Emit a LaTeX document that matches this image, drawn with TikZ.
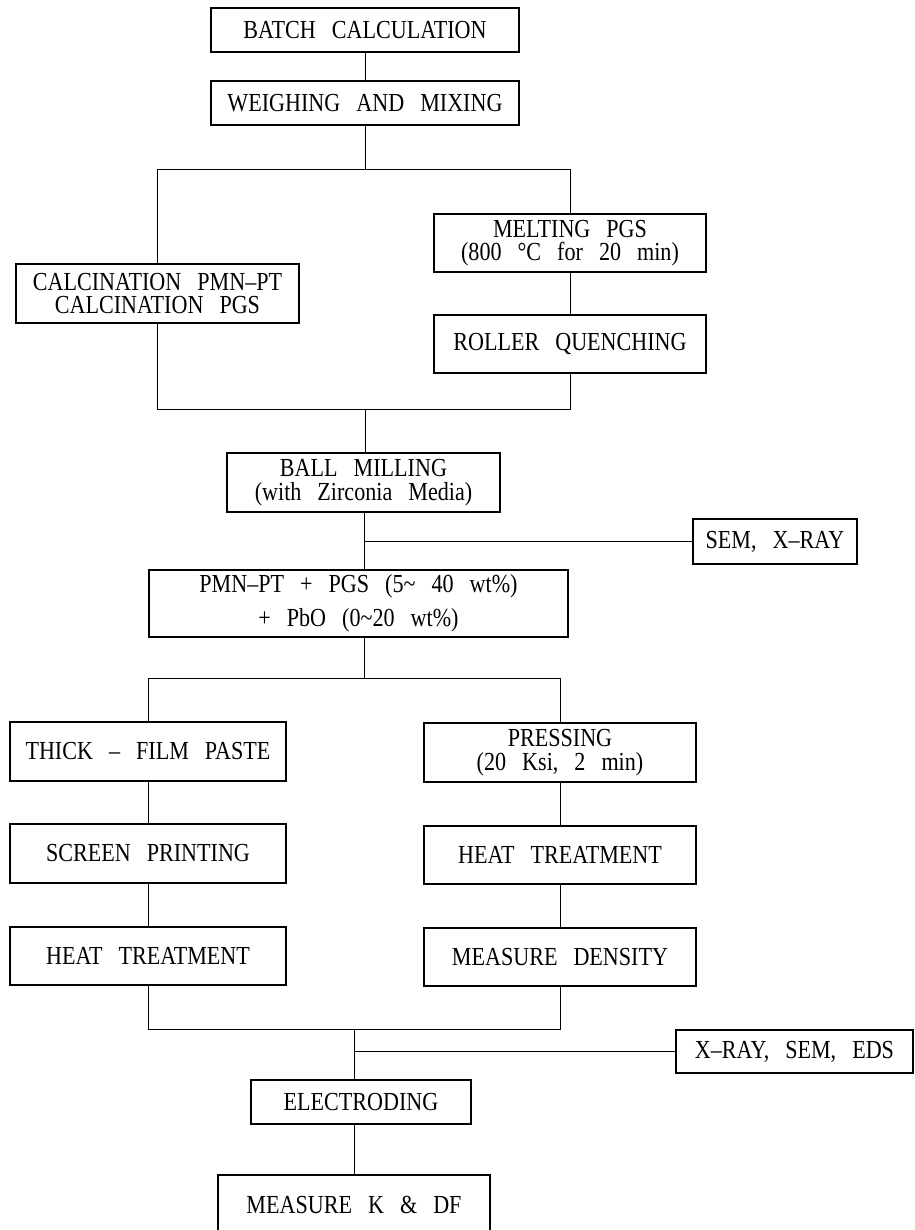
\documentclass[tikz,border=0pt]{standalone}
\usepackage{fontspec}
\setmainfont[FakeStretch=0.85,WordSpace=2.9]{Liberation Serif}
\begin{document}
\begin{tikzpicture}[x=1pt,y=-1pt,
  box/.style={draw, line width=1.2pt, align=center, inner sep=0pt,
    font=\fontsize{26}{23.5}\selectfont},
  ln/.style={line width=0.8pt}]
\clip (0,0) rectangle (914,1230);
\fill[white] (0,0) rectangle (914,1230);
% nodes
\node[box, minimum width=308pt, minimum height=44pt] (batch) at (365,30) {BATCH CALCULATION};
\node[box, minimum width=308pt, minimum height=44pt] (weigh) at (365,103) {WEIGHING AND MIXING};
\node[box, minimum width=283pt, minimum height=59pt] (calc) at (157.5,293.5) {CALCINATION PMN--PT\\CALCINATION PGS};
\node[box, minimum width=272pt, minimum height=58pt] (melt) at (570,243) {MELTING PGS\\(800 °C for 20 min)};
\node[box, minimum width=272pt, minimum height=58pt] (roller) at (570,344) {ROLLER QUENCHING};
\node[box, minimum width=273pt, minimum height=59pt] (ball) at (363.5,482.5) {BALL MILLING\\(with Zirconia Media)};
\node[box, minimum width=164pt, minimum height=45pt] (sem) at (775,541.5) {SEM, X--RAY};
\node[box, minimum width=419pt, minimum height=67pt] (pmn) at (358.5,603.5) {PMN--PT + PGS (5\textasciitilde{} 40 wt\%)\\[9.5pt]+ PbO (0\textasciitilde20 wt\%)};
\node[box, minimum width=276pt, minimum height=59pt] (thick) at (148,751.5) {THICK -- FILM PASTE};
\node[box, minimum width=272pt, minimum height=59pt] (press) at (560,752.5) {PRESSING\\(20 Ksi, 2 min)};
\node[box, minimum width=276pt, minimum height=59pt] (screen) at (148,853.5) {SCREEN PRINTING};
\node[box, minimum width=272pt, minimum height=58pt] (heatR) at (560,855) {HEAT TREATMENT};
\node[box, minimum width=276pt, minimum height=58pt] (heatL) at (148,956) {HEAT TREATMENT};
\node[box, minimum width=272pt, minimum height=58pt] (dens) at (560,957) {MEASURE DENSITY};
\node[box, minimum width=237pt, minimum height=43pt] (xray) at (794.5,1051.5) {X--RAY, SEM, EDS};
\node[box, minimum width=220pt, minimum height=44pt] (elec) at (361,1102) {ELECTRODING};
\node[box, minimum width=272pt, minimum height=60pt] (measK) at (354,1205) {MEASURE K \& DF};
% junctions
\coordinate (j1) at (365,169);
\coordinate (j2) at (365,409);
\coordinate (j3) at (364,541);
\coordinate (j4) at (364,678);
\coordinate (j5) at (354,1029);
\coordinate (j6) at (354,1051);
% connectors
\draw[ln] (batch.south) -- (weigh.north);
\draw[ln] (weigh.south) -- (j1);
\draw[ln] (calc.north) -- (calc.north |- j1) -- (melt.north |- j1) -- (melt.north);
\draw[ln] (melt.south) -- (roller.north);
\draw[ln] (calc.south) -- (calc.south |- j2) -- (roller.south |- j2) -- (roller.south);
\draw[ln] (j2) -- (j2 |- ball.north);
\draw[ln] (ball.south -| j3) -- (pmn.north -| j3);
\draw[ln] (j3) -- (sem.west |- j3);
\draw[ln] (pmn.south -| j4) -- (j4);
\draw[ln] (thick.north) -- (thick.north |- j4) -- (press.north |- j4) -- (press.north);
\draw[ln] (thick.south) -- (screen.north);
\draw[ln] (screen.south) -- (heatL.north);
\draw[ln] (press.south) -- (heatR.north);
\draw[ln] (heatR.south) -- (dens.north);
\draw[ln] (heatL.south) -- (heatL.south |- j5) -- (dens.south |- j5) -- (dens.south);
\draw[ln] (j5) -- (elec.north -| j5);
\draw[ln] (j6) -- (xray.west |- j6);
\draw[ln] (elec.south -| j5) -- (measK.north -| j5);
\end{tikzpicture}
\end{document}
